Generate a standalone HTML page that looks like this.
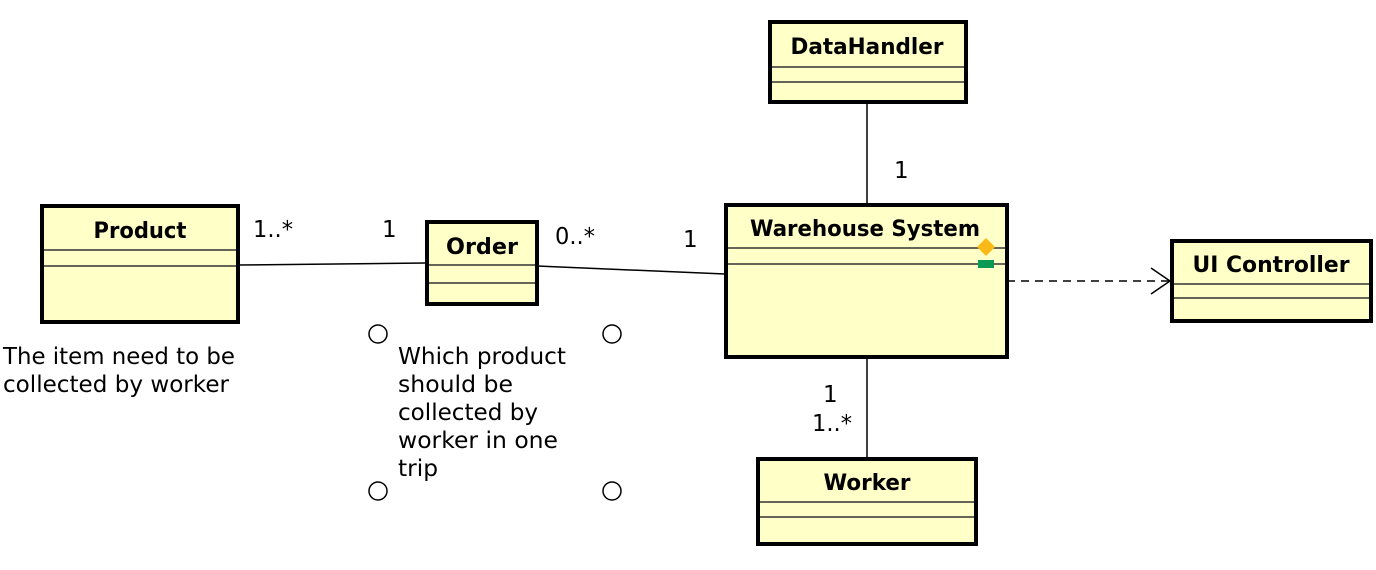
<!DOCTYPE html>
<html><head><meta charset="utf-8"><style>
html,body{margin:0;padding:0;background:#fff;}
svg{display:block;}
text{font-family:"DejaVu Sans","Liberation Sans",sans-serif;fill:#000;}
.t{font-weight:bold;font-size:22px;text-anchor:middle;}
.l{font-size:23px;}
</style></head><body>
<svg width="1376" height="570" viewBox="0 0 1376 570" xmlns="http://www.w3.org/2000/svg">
<g stroke="#000" stroke-width="1.5" fill="none">
<line x1="238" y1="265" x2="426" y2="263"/>
<line x1="537" y1="266" x2="725" y2="274"/>
<line x1="867" y1="103" x2="867" y2="204"/>
<line x1="867" y1="357" x2="867" y2="458"/>
<line x1="1007" y1="281" x2="1169" y2="281" stroke-dasharray="8,6"/>
<polyline points="1151,268 1170,281 1151,294"/>
</g>
<g stroke="#000" fill="#ffffc8">
<rect x="42" y="206" width="196" height="116" stroke-width="4"/>
<rect x="427" y="222" width="110" height="82" stroke-width="4"/>
<rect x="726" y="205" width="281" height="152" stroke-width="4"/>
<rect x="770" y="22" width="196" height="80" stroke-width="4"/>
<rect x="1172" y="241" width="199" height="80" stroke-width="4"/>
<rect x="758" y="459" width="218" height="85" stroke-width="4"/>
</g>
<g stroke="#333" stroke-width="1.5">
<line x1="44" y1="250" x2="236" y2="250"/><line x1="44" y1="266" x2="236" y2="266"/>
<line x1="429" y1="265" x2="535" y2="265"/><line x1="429" y1="283" x2="535" y2="283"/>
<line x1="728" y1="248" x2="1005" y2="248"/><line x1="728" y1="264" x2="1005" y2="264"/>
<line x1="772" y1="67" x2="964" y2="67"/><line x1="772" y1="82" x2="964" y2="82"/>
<line x1="1174" y1="284" x2="1369" y2="284"/><line x1="1174" y1="298" x2="1369" y2="298"/>
<line x1="760" y1="502" x2="974" y2="502"/><line x1="760" y1="517" x2="974" y2="517"/>
</g>
<polygon points="986,238 995,247 986,256 977,247" fill="#fbb917"/>
<rect x="978" y="260" width="16" height="8" fill="#0a9a55"/>
<text class="t" x="140" y="238" textLength="93" lengthAdjust="spacingAndGlyphs">Product</text>
<text class="t" x="482" y="254" textLength="72" lengthAdjust="spacingAndGlyphs">Order</text>
<text class="t" x="865" y="236" textLength="230" lengthAdjust="spacingAndGlyphs">Warehouse System</text>
<text class="t" x="867" y="54" textLength="153" lengthAdjust="spacingAndGlyphs">DataHandler</text>
<text class="t" x="1271" y="272" textLength="157" lengthAdjust="spacingAndGlyphs">UI Controller</text>
<text class="t" x="867" y="490" textLength="87" lengthAdjust="spacingAndGlyphs">Worker</text>
<text class="l" x="253" y="237" textLength="40" lengthAdjust="spacingAndGlyphs">1..*</text>
<text class="l" x="382" y="237">1</text>
<text class="l" x="555" y="244" textLength="40" lengthAdjust="spacingAndGlyphs">0..*</text>
<text class="l" x="683" y="247">1</text>
<text class="l" x="894" y="178">1</text>
<text class="l" x="823" y="402">1</text>
<text class="l" x="812" y="431" textLength="40" lengthAdjust="spacingAndGlyphs">1..*</text>
<text class="l" x="3" y="364" textLength="232" lengthAdjust="spacingAndGlyphs">The item need to be</text>
<text class="l" x="3" y="392" textLength="226" lengthAdjust="spacingAndGlyphs">collected by worker</text>
<text class="l" x="398" y="364" textLength="168" lengthAdjust="spacingAndGlyphs">Which product</text>
<text class="l" x="398" y="392" textLength="115" lengthAdjust="spacingAndGlyphs">should be</text>
<text class="l" x="398" y="420" textLength="140" lengthAdjust="spacingAndGlyphs">collected by</text>
<text class="l" x="398" y="448" textLength="160" lengthAdjust="spacingAndGlyphs">worker in one</text>
<text class="l" x="398" y="476" textLength="40" lengthAdjust="spacingAndGlyphs">trip</text>
<g fill="#fff" stroke="#000" stroke-width="1.5">
<circle cx="378" cy="334" r="9"/><circle cx="612" cy="334" r="9"/>
<circle cx="378" cy="491" r="9"/><circle cx="612" cy="491" r="9"/>
</g>
</svg>
</body></html>
